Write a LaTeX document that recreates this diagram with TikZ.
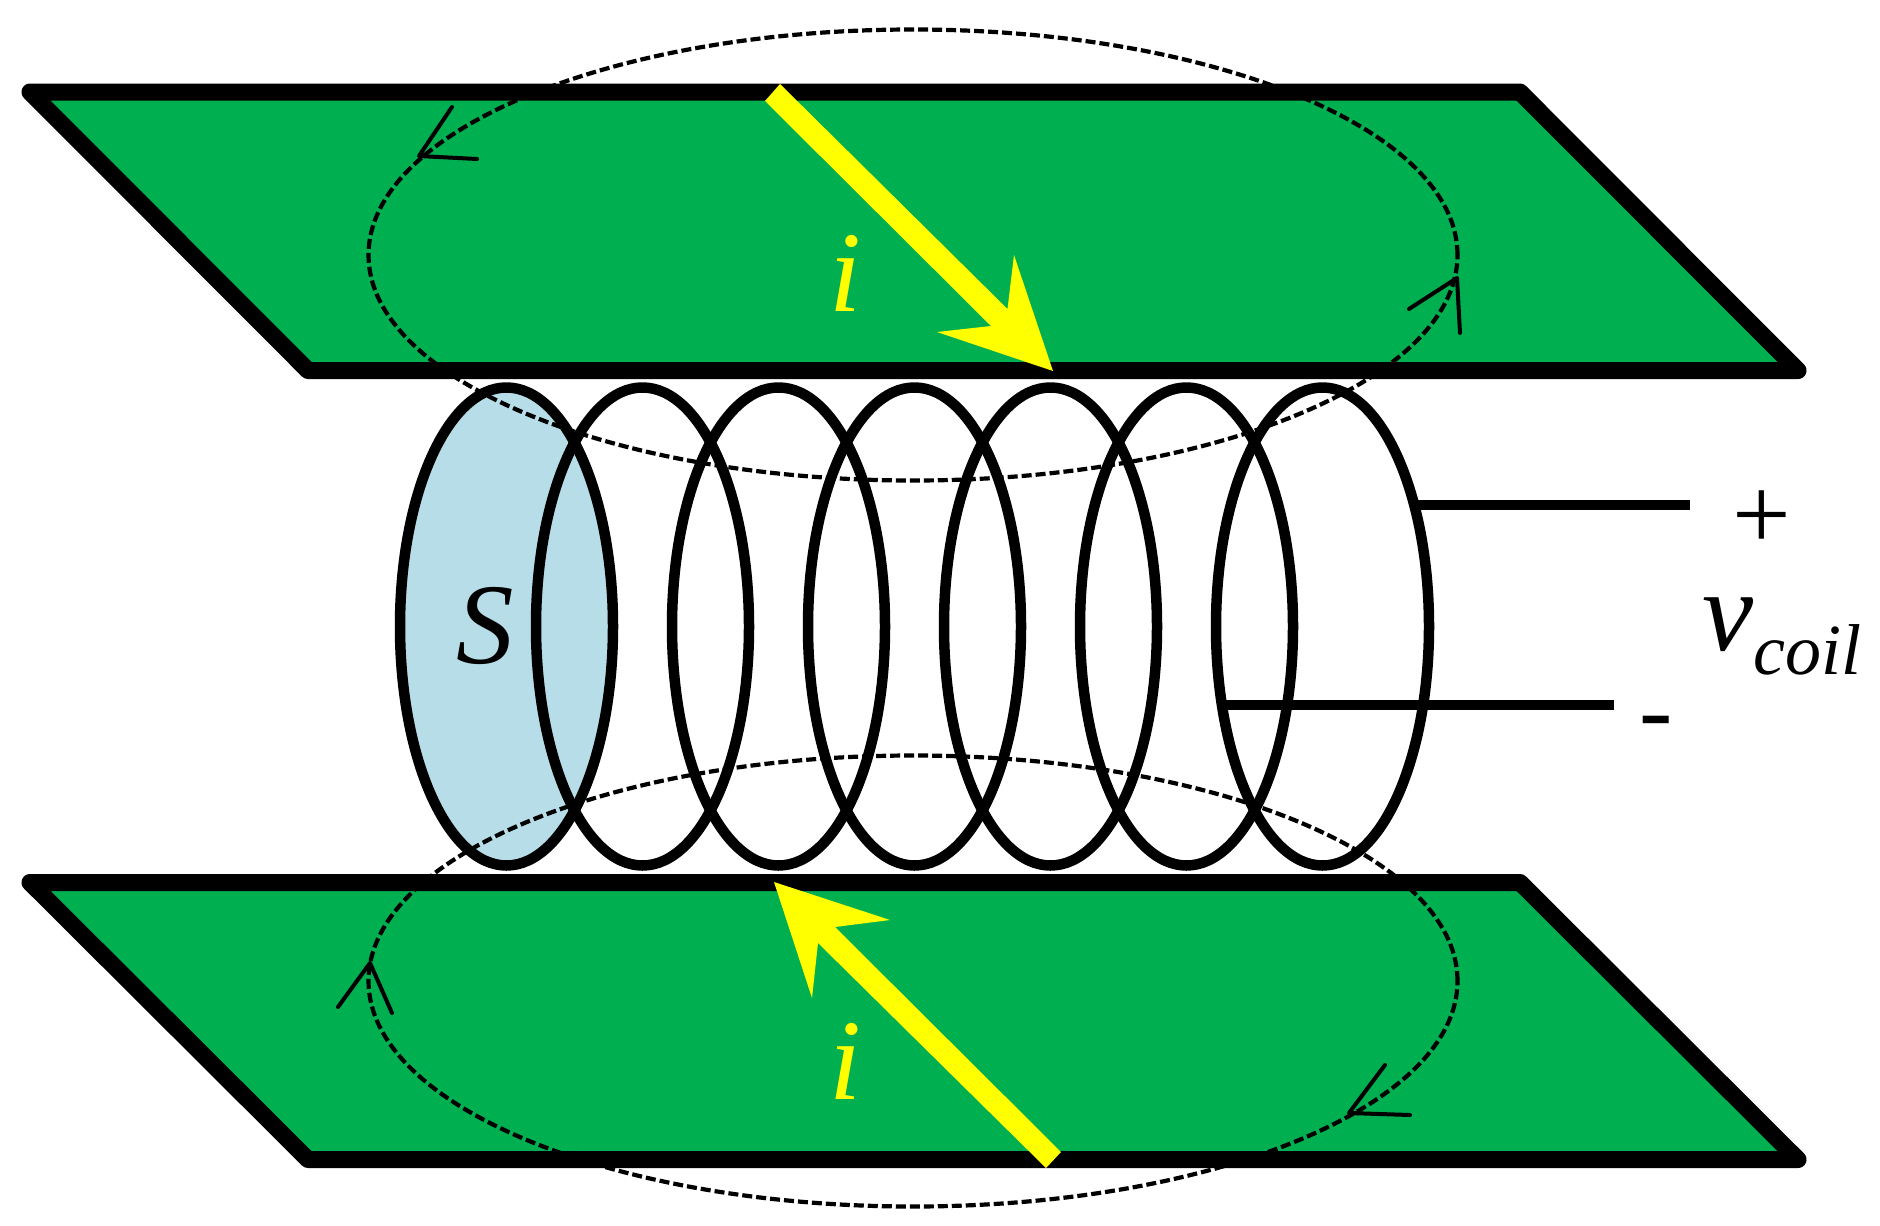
\documentclass[tikz,border=0pt]{standalone}
\usepackage{fontspec}
\setmainfont{Liberation Serif}
\usetikzlibrary{shapes}
\definecolor{plateGreen}{RGB}{0,176,80}
\definecolor{faceBlue}{RGB}{183,222,232}
\definecolor{currentYellow}{RGB}{255,255,0}
\begin{document}
\begin{tikzpicture}[x = 1pt, y = -1pt, line join = round]
	\tikzstyle{plateStyle} = [fill = plateGreen]
	\tikzstyle{edgeStyle} = [draw, line width = 17pt]
	\tikzstyle{coilStyle} = [shape = ellipse, draw, line width = 10.5pt, inner sep = 0pt, outer sep = 0pt, minimum width = 213pt, minimum height = 478pt]
	\tikzstyle{fluxStyle} = [shape = ellipse, draw, line width = 4.2pt, dash pattern = on 10pt off 4pt, inner sep = 0pt, outer sep = 0pt, minimum width = 1089pt, minimum height = 451pt]
	\tikzstyle{barbStyle} = [draw, line width = 4pt, line cap = round]
	\tikzstyle{leadStyle} = [draw, line width = 10.5pt]
	\tikzstyle{currentStyle} = [fill = currentYellow]
	\useasboundingbox (0, 0) rectangle (1880, 1226);
	\fill[plateStyle] (30, 92) -- (1520, 92) -- (1798, 370.5) -- (308, 370.5) -- cycle;
	\fill[plateStyle] (30, 882.5) -- (1520, 882.5) -- (1798, 1159.5) -- (308, 1159.5) -- cycle;
	\node[coilStyle, draw = none, fill = faceBlue] (s0) at (506.5, 626.5) {};
	\node[fluxStyle] (f0) at (913, 255) {};
	\node[fluxStyle] (f1) at (913, 981) {};
	\draw[edgeStyle] (30, 92) -- (1520, 92) -- (1798, 370.5) -- (308, 370.5) -- cycle;
	\draw[edgeStyle] (30, 882.5) -- (1520, 882.5) -- (1798, 1159.5) -- (308, 1159.5) -- cycle;
	\node[coilStyle] (c0) at (506.5, 626.5) {};
	\node[coilStyle] (c1) at (642.5, 626.5) {};
	\node[coilStyle] (c2) at (778.5, 626.5) {};
	\node[coilStyle] (c3) at (914.5, 626.5) {};
	\node[coilStyle] (c4) at (1050.5, 626.5) {};
	\node[coilStyle] (c5) at (1186.5, 626.5) {};
	\node[coilStyle] (c6) at (1322.5, 626.5) {};
	\coordinate (p0) at (1418, 505);
	\coordinate (p1) at (1690, 505);
	\coordinate (m0) at (1223, 705);
	\coordinate (m1) at (1614, 705);
	\draw[leadStyle] (p0) -- (p1);
	\draw[leadStyle] (m0) -- (m1);
	\draw[barbStyle] (452, 107) -- (419, 156) -- (477, 159);
	\draw[barbStyle] (1409, 309) -- (1457, 278) -- (1460, 333);
	\draw[barbStyle] (338, 1007) -- (370, 963) -- (392, 1013);
	\draw[barbStyle] (1385, 1065) -- (1349, 1113) -- (1410, 1115);
	\fill[currentStyle] (780, 84) -- (1007.5, 309) -- (1014, 255) -- (1053, 371) -- (937, 332) -- (991, 326) -- (765, 101) -- cycle;
	\fill[currentStyle] (1061, 1152) -- (835, 927) -- (890, 920) -- (774, 882) -- (812, 998) -- (818, 943) -- (1046, 1168) -- cycle;
	\node[text = currentYellow, font = \fontsize{115}{115}\selectfont\itshape] (i0) at (845, 273) {i};
	\node[text = currentYellow, font = \fontsize{115}{115}\selectfont\itshape] (i1) at (845, 1061) {i};
	\node[font = \fontsize{115}{115}\selectfont\itshape] (s) at (485, 626) {S};
	\node[font = \fontsize{104}{104}\selectfont] (plus) at (1762, 520) {+};
	\node[font = \fontsize{100}{100}\selectfont\itshape] (minus) at (1656, 730) {-};
	\node[font = \fontsize{115}{115}\selectfont\itshape, inner sep = 0pt] (vcoil) at (1782, 636) {v\lower 24pt\hbox{\fontsize{72}{72}\selectfont coil}};
\end{tikzpicture}
\end{document}
